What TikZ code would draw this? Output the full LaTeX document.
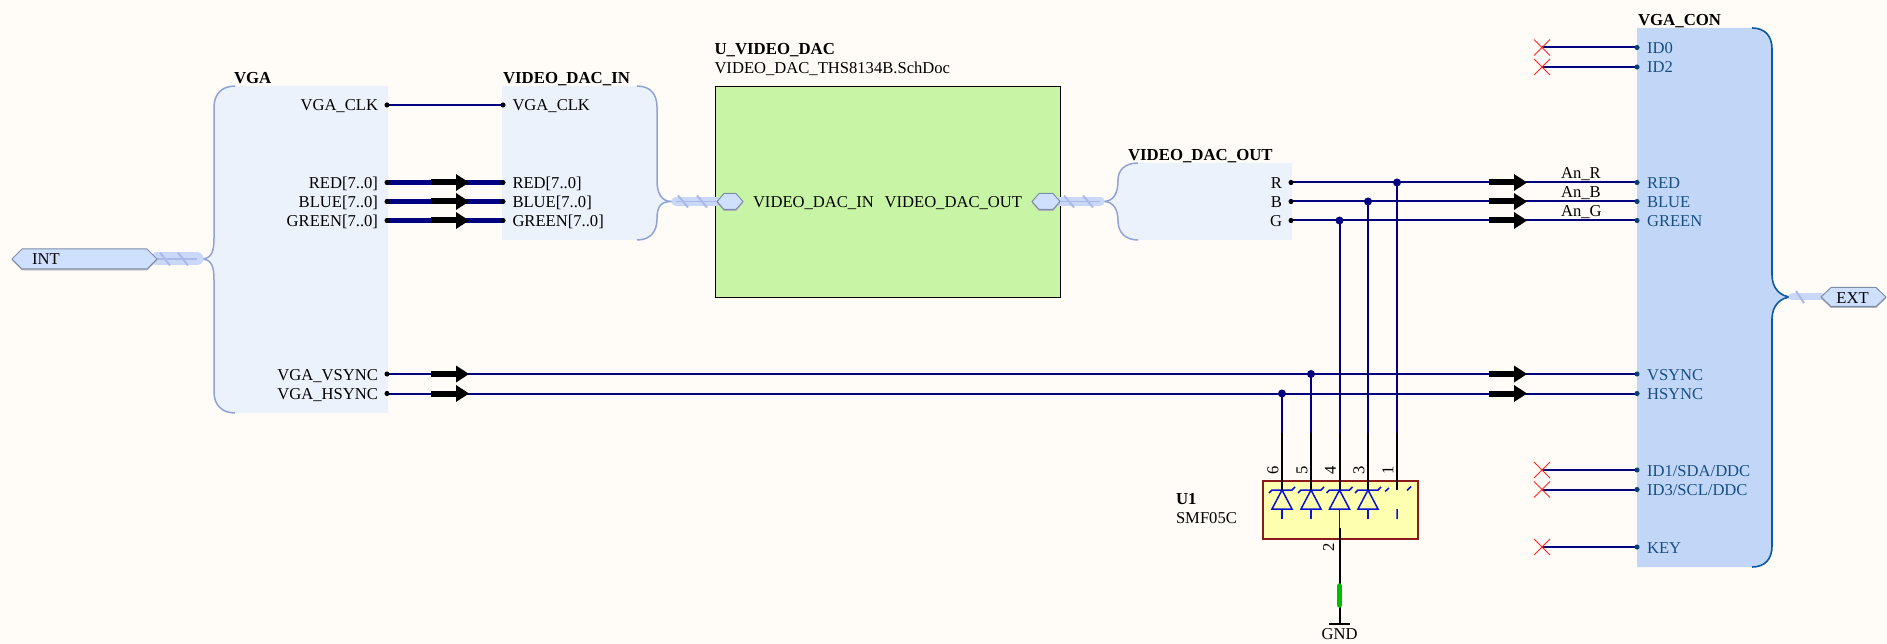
\documentclass[tikz,border=0pt]{standalone}
\usepackage{fontspec}
\setmainfont{Liberation Serif}
\usetikzlibrary{calc}
\definecolor{bgc}{HTML}{FFFCF7}
\definecolor{navy}{HTML}{000080}
\definecolor{hfill}{HTML}{ECF2FC}
\definecolor{hline}{HTML}{8FA4D6}
\definecolor{confill}{HTML}{C2D7F7}
\definecolor{conline}{HTML}{0B5AA0}
\definecolor{context}{HTML}{174F85}
\definecolor{portfill}{HTML}{CFE0FF}
\definecolor{portline}{HTML}{7D8FA8}
\definecolor{portshadow}{HTML}{B0B0B8}
\definecolor{harn}{HTML}{C9D8F8}
\definecolor{hatch}{HTML}{A9BAE6}
\definecolor{sheetg}{HTML}{C8F5A5}
\definecolor{ufill}{HTML}{FFFFB0}
\definecolor{uline}{HTML}{8B1A1A}
\definecolor{zen}{HTML}{0A14D2}
\tikzset{
  lbl/.style={inner sep=0pt,outer sep=0pt,font=\fontsize{16.6}{18}\selectfont,text=black},
  ttl/.style={inner sep=0pt,outer sep=0pt,anchor=base west,font=\fontsize{16.8}{18}\selectfont\bfseries,text=black},
  pinl/.style={lbl,anchor=base east,yshift=-6pt},
  pinr/.style={lbl,anchor=base west,yshift=-6pt},
  conl/.style={pinr,text=context},
  dotk/.style={circle,fill=black,inner sep=0pt,minimum size=4.5pt},
  dotc/.style={circle,fill=conline!70!black,inner sep=0pt,minimum size=4.5pt},
  junc/.style={circle,fill=navy,inner sep=0pt,minimum size=8pt},
  wire/.style={draw=navy,line width=2pt},
  bus/.style={draw=navy,line width=5.5pt},
  pinw/.style={draw=black,line width=2pt},
  sigb/.style={draw=black,line width=6pt},
  sigt/.style={fill=black,draw=none},
  harnb/.style={draw=harn,line width=9pt,line cap=round},
  harni/.style={draw=hatch,line width=1.2pt},
  zenl/.style={draw=zen,line width=1.5pt},
  xm/.style={draw=red!85!white,line width=1pt},
  portn/.style={fill=portfill,draw=portline,line width=1pt},
}
\newcommand{\sigarrow}[2]{%
  \draw[sigb] (#1,#2) -- ++(25,0);
  \fill[sigt] (#1+25,#2-8.5) -- (#1+38,#2) -- (#1+25,#2+8.5) -- cycle;}
\newcommand{\xmark}[2]{%
  \draw[xm] (#1-8,#2-8) -- (#1+8,#2+8) (#1-8,#2+8) -- (#1+8,#2-8);}
\newcommand{\hexport}[5]{% x0 x1 y half tip
  \fill[portshadow] (#1,#3+1.5) -- (#1+#5,#3-#4+1.5) -- (#2-#5,#3-#4+1.5) -- (#2,#3+1.5) -- (#2-#5,#3+#4+1.5) -- (#1+#5,#3+#4+1.5) -- cycle;
  \draw[portn] (#1,#3) -- (#1+#5,#3-#4) -- (#2-#5,#3-#4) -- (#2,#3) -- (#2-#5,#3+#4) -- (#1+#5,#3+#4) -- cycle;}
\begin{document}
\begin{tikzpicture}[x=1pt,y=-1pt]
\useasboundingbox (0,0) rectangle (1887,644);
\fill[bgc] (0,0) rectangle (1887,644);

% ---- harness VGA
\fill[hfill] (235,86) -- (388,86) -- (388,413) -- (235,413)
  .. controls (222,413) and (214,405) .. (214,392) -- (214,280)
  .. controls (214,267) and (212,259) .. (201,259)
  .. controls (212,259) and (214,251) .. (214,238) -- (214,107)
  .. controls (214,94) and (222,86) .. (235,86) -- cycle;
\draw[hline,line width=1.5pt] (235,413)
  .. controls (222,413) and (214,405) .. (214,392) -- (214,280)
  .. controls (214,267) and (212,259) .. (201,259)
  .. controls (212,259) and (214,251) .. (214,238) -- (214,107)
  .. controls (214,94) and (222,86) .. (235,86);
\node[ttl] (tvga) at (234,84) {VGA};

% ---- harness VIDEO_DAC_IN
\fill[hfill] (502,86) -- (637,86)
  .. controls (650,86) and (657,94) .. (657,107) -- (657,180)
  .. controls (657,193) and (661,201.5) .. (672,201.5)
  .. controls (661,201.5) and (657,206) .. (657,219)
  .. controls (657,232) and (650,240) .. (637,240) -- (502,240) -- cycle;
\draw[hline,line width=1.5pt] (637,86)
  .. controls (650,86) and (657,94) .. (657,107) -- (657,180)
  .. controls (657,193) and (661,201.5) .. (672,201.5)
  .. controls (661,201.5) and (657,206) .. (657,219)
  .. controls (657,232) and (650,240) .. (637,240);
\node[ttl] (tin) at (503,84) {VIDEO\_DAC\_IN};

% ---- harness VIDEO_DAC_OUT
\fill[hfill] (1292,163) -- (1138,163)
  .. controls (1125,163) and (1118,170) .. (1118,180)
  .. controls (1118,193) and (1114,201.5) .. (1103,201.5)
  .. controls (1114,201.5) and (1118,210) .. (1118,221)
  .. controls (1118,232) and (1125,240) .. (1138,240) -- (1292,240) -- cycle;
\draw[hline,line width=1.5pt] (1138,163)
  .. controls (1125,163) and (1118,170) .. (1118,180)
  .. controls (1118,193) and (1114,201.5) .. (1103,201.5)
  .. controls (1114,201.5) and (1118,210) .. (1118,221)
  .. controls (1118,232) and (1125,240) .. (1138,240);
\node[ttl] (tout) at (1128,160.5) {VIDEO\_DAC\_OUT};

% ---- connector harness VGA_CON
\fill[confill] (1637,28) -- (1752,28)
  .. controls (1765,28) and (1772,36) .. (1772,49) -- (1772,275)
  .. controls (1772,288) and (1780,297) .. (1792,297)
  .. controls (1780,297) and (1772,306) .. (1772,319) -- (1772,546)
  .. controls (1772,559) and (1765,567) .. (1752,567) -- (1637,567) -- cycle;
\draw[conline,line width=1.6pt] (1752,28)
  .. controls (1765,28) and (1772,36) .. (1772,49) -- (1772,275)
  .. controls (1772,288) and (1780,297) .. (1792,297)
  .. controls (1780,297) and (1772,306) .. (1772,319) -- (1772,546)
  .. controls (1772,559) and (1765,567) .. (1752,567);
\node[ttl] (tcon) at (1638,25.5) {VGA\_CON};

% ---- sheet symbol
\node[draw=black,line width=1pt,fill=sheetg,inner sep=0pt,anchor=north west,minimum width=345.5pt,minimum height=211pt] (sheet) at (714.5,86) {};
\node[ttl] (sname) at (714.5,54.5) {U\_VIDEO\_DAC};
\node[lbl,anchor=base west] (sfile) at (714.5,73.5) {VIDEO\_DAC\_THS8134B.SchDoc};

% ---- harness bundles
\coordinate (hi1) at (157,259); \coordinate (hi2) at (197,259);
\draw[harnb,line width=13pt] (hi1) -- (hi2);
\draw[harni] (hi1) -- (hi2);
\draw[hatch,line width=2pt] (160,252.5)--(170,265.5) (178,252.5)--(188,265.5);
\coordinate (hd1) at (676,201.5); \coordinate (hd2) at (717,201.5);
\draw[harnb] (hd1) -- (hd2);
\draw[harni] (hd1) -- (hd2);
\draw[hatch,line width=2pt] (678,195.5)--(688,207.5) (697,195.5)--(707,207.5);
\coordinate (ho1) at (1060,201.5); \coordinate (ho2) at (1100,201.5);
\draw[harnb] (ho1) -- (ho2);
\draw[harni] (ho1) -- (ho2);
\draw[hatch,line width=2pt] (1064,195.5)--(1074,207.5) (1083,195.5)--(1093,207.5);
\coordinate (he1) at (1792,297); \coordinate (he2) at (1822,297);
\draw[draw=harn,line width=7pt,line cap=round] (he1) -- (he2);
\draw[hatch,line width=2pt] (1796,291)--(1804,303);

% ---- ports
\hexport{12}{157}{259}{10}{10}
\node[lbl,anchor=base west] (pint) at (32,265) {INT};
\hexport{717}{743}{201.5}{8}{7}
\hexport{1032}{1060}{201.5}{8}{7}
\node[lbl,anchor=base west] (pdin) at (753,207.5) {VIDEO\_DAC\_IN};
\node[lbl,anchor=base east] (pdout) at (1022,207.5) {VIDEO\_DAC\_OUT};
\hexport{1821}{1886}{297}{9.5}{10}
\node[lbl,anchor=base] (pext) at (1852.5,303) {EXT};

% ---- pin endpoints
\node[dotk] (a1) at (387,105) {};
\node[dotk] (a2) at (387,182.5) {};
\node[dotk] (a3) at (387,201.5) {};
\node[dotk] (a4) at (387,220.5) {};
\node[dotk] (a5) at (387,374) {};
\node[dotk] (a6) at (387,393.5) {};
\node[dotk] (b1) at (503,105) {};
\node[dotk] (b2) at (503,182.5) {};
\node[dotk] (b3) at (503,201.5) {};
\node[dotk] (b4) at (503,220.5) {};
\node[dotk] (o1) at (1291,182.5) {};
\node[dotk] (o2) at (1291,201.5) {};
\node[dotk] (o3) at (1291,220.5) {};
\node[dotc] (c1) at (1637,47.5) {};
\node[dotc] (c2) at (1637,67) {};
\node[dotc] (c3) at (1637,182.5) {};
\node[dotc] (c4) at (1637,201.5) {};
\node[dotc] (c5) at (1637,220.5) {};
\node[dotc] (c6) at (1637,374) {};
\node[dotc] (c7) at (1637,393.5) {};
\node[dotc] (c8) at (1637,470) {};
\node[dotc] (c9) at (1637,489.5) {};
\node[dotc] (c10) at (1637,547) {};
\foreach \n/\yy in {x1/47.5,x2/67,x8/470,x9/489.5,x10/547}{\coordinate (\n) at (1542,\yy);}

% ---- pin labels
\node[pinl] (la1) at (378,105) {VGA\_CLK};
\node[pinl] (la2) at (378,182.5) {RED[7..0]};
\node[pinl] (la3) at (378,201.5) {BLUE[7..0]};
\node[pinl] (la4) at (378,220.5) {GREEN[7..0]};
\node[pinl] (la5) at (378,374) {VGA\_VSYNC};
\node[pinl] (la6) at (378,393.5) {VGA\_HSYNC};
\node[pinr] (lb1) at (512.5,105) {VGA\_CLK};
\node[pinr] (lb2) at (512.5,182.5) {RED[7..0]};
\node[pinr] (lb3) at (512.5,201.5) {BLUE[7..0]};
\node[pinr] (lb4) at (512.5,220.5) {GREEN[7..0]};
\node[pinl] (lo1) at (1282,182.5) {R};
\node[pinl] (lo2) at (1282,201.5) {B};
\node[pinl] (lo3) at (1282,220.5) {G};
\node[conl] (lc1) at (1647,47.5) {ID0};
\node[conl] (lc2) at (1647,67) {ID2};
\node[conl] (lc3) at (1647,182.5) {RED};
\node[conl] (lc4) at (1647,201.5) {BLUE};
\node[conl] (lc5) at (1647,220.5) {GREEN};
\node[conl] (lc6) at (1647,374) {VSYNC};
\node[conl] (lc7) at (1647,393.5) {HSYNC};
\node[conl] (lc8) at (1647,470) {ID1/SDA/DDC};
\node[conl] (lc9) at (1647,489.5) {ID3/SCL/DDC};
\node[conl] (lc10) at (1647,547) {KEY};
\node[lbl,anchor=base west] (nr) at (1561,178.5) {An\_R};
\node[lbl,anchor=base west] (nb) at (1561,197.5) {An\_B};
\node[lbl,anchor=base west] (ng) at (1561,217) {An\_G};

% ---- U1 part
\node[draw=uline,line width=2pt,fill=ufill,inner sep=0pt,anchor=north west,minimum width=154.5pt,minimum height=57.5pt] (u1) at (1262,480) {};
\node[ttl] (u1n) at (1176,504.5) {U1};
\node[lbl,anchor=base west] (u1v) at (1176,523.5) {SMF05C};

% diodes
\foreach \dx in {1282,1311,1339.5,1368}{
  \draw[zenl] (\dx,490) -- (\dx-10,509) -- (\dx+10,509) -- cycle;
  \draw[zenl] (\dx-13,493) -- (\dx-10,490) -- (\dx+10,490) -- (\dx+13,487);
  \draw[zenl] (\dx,509) -- (\dx,519);
}
\draw[zenl] (1385,491.5) -- (1389,488) (1407,490.5) -- (1411,486.5) (1397,509) -- (1397,519);
\draw[zenl] (1339.5,519) -- (1339.5,528);

% ---- wires
\coordinate (j6) at (1282,393.5);
\coordinate (j5) at (1311,374);
\coordinate (j4) at (1339.5,220.5);
\coordinate (j3) at (1368,201.5);
\coordinate (j1) at (1397,182.5);
\foreach \n/\xx in {6/1282,5/1311,4/1339.5,3/1368,1/1397}{
  \coordinate (s\n) at (\xx,432.5);
  \coordinate (e\n) at (\xx,490);
  \draw[pinw] (s\n) -- (e\n);
  \draw[wire] (j\n) -- (s\n);
}
\draw[wire] (a1.center) -- (b1.center);
\draw[bus] (a2.center) -- (b2.center);
\draw[bus] (a3.center) -- (b3.center);
\draw[bus] (a4.center) -- (b4.center);
\draw[wire] (a5.center) -- (c6.center);
\draw[wire] (a6.center) -- (c7.center);
\draw[wire] (o1.center) -- (c3.center);
\draw[wire] (o2.center) -- (c4.center);
\draw[wire] (o3.center) -- (c5.center);
\draw[wire] (x1) -- (c1.center);
\draw[wire] (x2) -- (c2.center);
\draw[wire] (x8) -- (c8.center);
\draw[wire] (x9) -- (c9.center);
\draw[wire] (x10) -- (c10.center);
\foreach \n in {a1,a2,a3,a4,a5,a6,b1,b2,b3,b4,o1,o2,o3}{\fill[black] (\n) circle (2.5pt);}
\foreach \n in {c1,c2,c3,c4,c5,c6,c7,c8,c9,c10}{\fill[conline!70!black] (\n) circle (2.5pt);}
\foreach \n in {j6,j5,j4,j3,j1}{\node[junc] (n\n) at (\n) {};}

% signal arrows
\foreach \yy in {182.5,201.5,220.5,374,393.5}{\sigarrow{431}{\yy}}
\foreach \yy in {182.5,201.5,220.5,374,393.5}{\sigarrow{1489}{\yy}}
% no-ERC
\foreach \yy in {47.5,67,470,489.5,547}{\xmark{1542}{\yy}}

% ---- pin numbers
\foreach \xx/\t in {1273/6,1302/5,1330.5/4,1359/3,1388/1}{
  \node[lbl,rotate=90] (pn\t) at (\xx,470) {\t};}
\node[lbl,rotate=90] (pn2) at (1328.5,547) {2};

% ---- GND
\coordinate (u2) at (1339.5,528);
\node[inner sep=0pt,minimum width=20pt,minimum height=0pt] (gndbar) at (1339.5,624) {};
\draw[pinw] (u2) -- (gndbar.center);
\draw[black,line width=1.5pt] (gndbar.west) -- (gndbar.east);
\draw[draw=green!75!black,line width=5.5pt,line cap=round] (1339.5,586) -- (1339.5,605);
\node[lbl,anchor=base] (gnd) at (1339.5,639.5) {GND};
\end{tikzpicture}
\end{document}
